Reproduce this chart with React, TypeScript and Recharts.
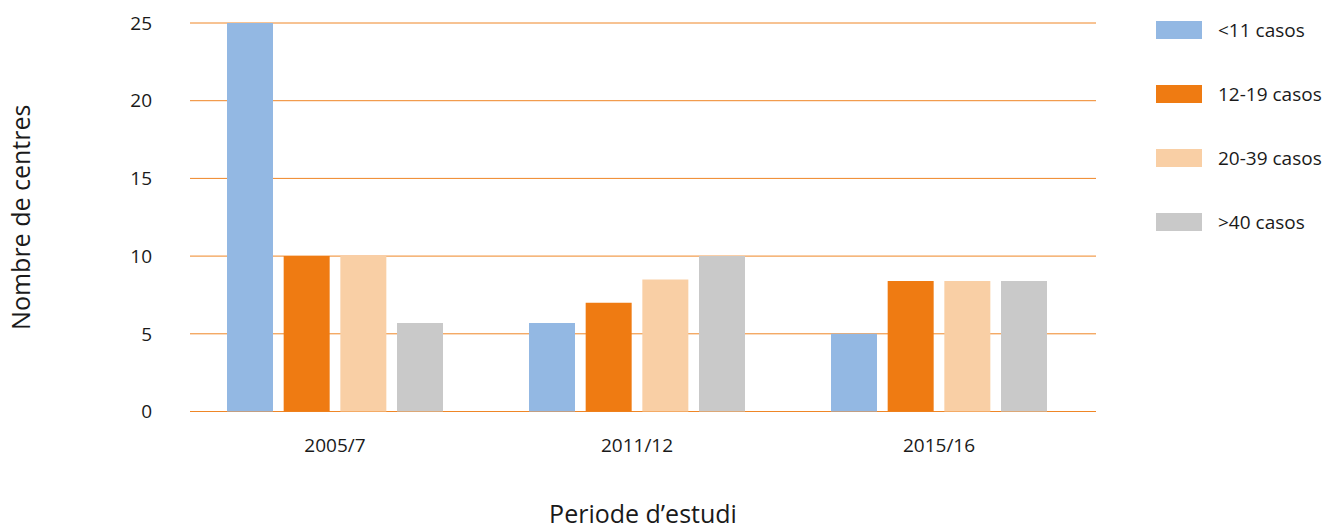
import { BarChart, Bar, XAxis, YAxis, CartesianGrid } from "recharts";

const periods = ["2005/7", "2011/12", "2015/16"];
const seriesNames = ["<11 casos", "12-19 casos", "20-39 casos", ">40 casos"];
const under11 = [25, 5.7, 5];
const from12to19 = [10, 7, 8.4];
const from20to39 = [10, 8.5, 8.4];
const over40 = [5.7, 10, 8.4];
const yTicks = [0, 5, 10, 15, 20, 25];

const colors = ["#93b8e3", "#ef7b12", "#f9cfa5", "#c9c9c9"];
const textColor = "#1a1a1a";
const gridColor = "#ef8626";

const seriesValues = [under11, from12to19, from20to39, over40];

const data = periods.map((period, i) => {
  const row: Record<string, string | number> = { period };
  seriesValues.forEach((vals, s) => {
    row["s" + s] = vals[i];
  });
  return row;
});

export default function App() {
  return (
    <div
      style={{
        position: "absolute",
        left: 0,
        top: 0,
        width: 1337,
        height: 532,
        background: "#fff",
        fontFamily: "'Open Sans', sans-serif",
      }}
    >
      <BarChart
        width={1337}
        height={532}
        data={data}
        margin={{ top: 23, right: 241, bottom: 0, left: 0 }}
        barSize={46}
        barGap={10.67}
      >
        <CartesianGrid vertical={false} stroke={gridColor} />
        <XAxis
          dataKey="period"
          height={120.5}
          axisLine={false}
          tickLine={false}
          tickSize={0}
          tickMargin={27}
          padding={{ left: -6, right: 6 }}
          tick={{ fontSize: 19, fill: textColor }}
          label={{
            value: "Periode d’estudi",
            position: "insideBottom",
            offset: 9,
            fontSize: 25,
            fill: textColor,
          }}
        />
        <YAxis
          width={190}
          domain={[0, 25]}
          ticks={yTicks}
          axisLine={false}
          tickLine={false}
          tickSize={0}
          tickMargin={38}
          tick={{ fontSize: 19, fill: textColor }}
          label={{
            value: "Nombre de centres",
            angle: -90,
            position: "insideLeft",
            offset: 21,
            fontSize: 25,
            fill: textColor,
            style: { textAnchor: "middle" },
          }}
        />
        {seriesNames.map((name, s) => (
          <Bar
            key={name}
            dataKey={"s" + s}
            name={name}
            fill={colors[s]}
            isAnimationActive={false}
          />
        ))}
      </BarChart>

      {/* legend on the right */}
      <div style={{ position: "absolute", left: 1156, top: 21 }}>
        {seriesNames.map((name, s) => (
          <div
            key={name}
            style={{
              display: "flex",
              alignItems: "center",
              height: 18,
              marginBottom: 46,
            }}
          >
            <span
              style={{
                width: 46,
                height: 18,
                background: colors[s],
                display: "inline-block",
              }}
            />
            <span
              style={{
                marginLeft: 16,
                fontSize: 19,
                lineHeight: "18px",
                color: textColor,
                whiteSpace: "nowrap",
              }}
            >
              {name}
            </span>
          </div>
        ))}
      </div>
    </div>
  );
}
